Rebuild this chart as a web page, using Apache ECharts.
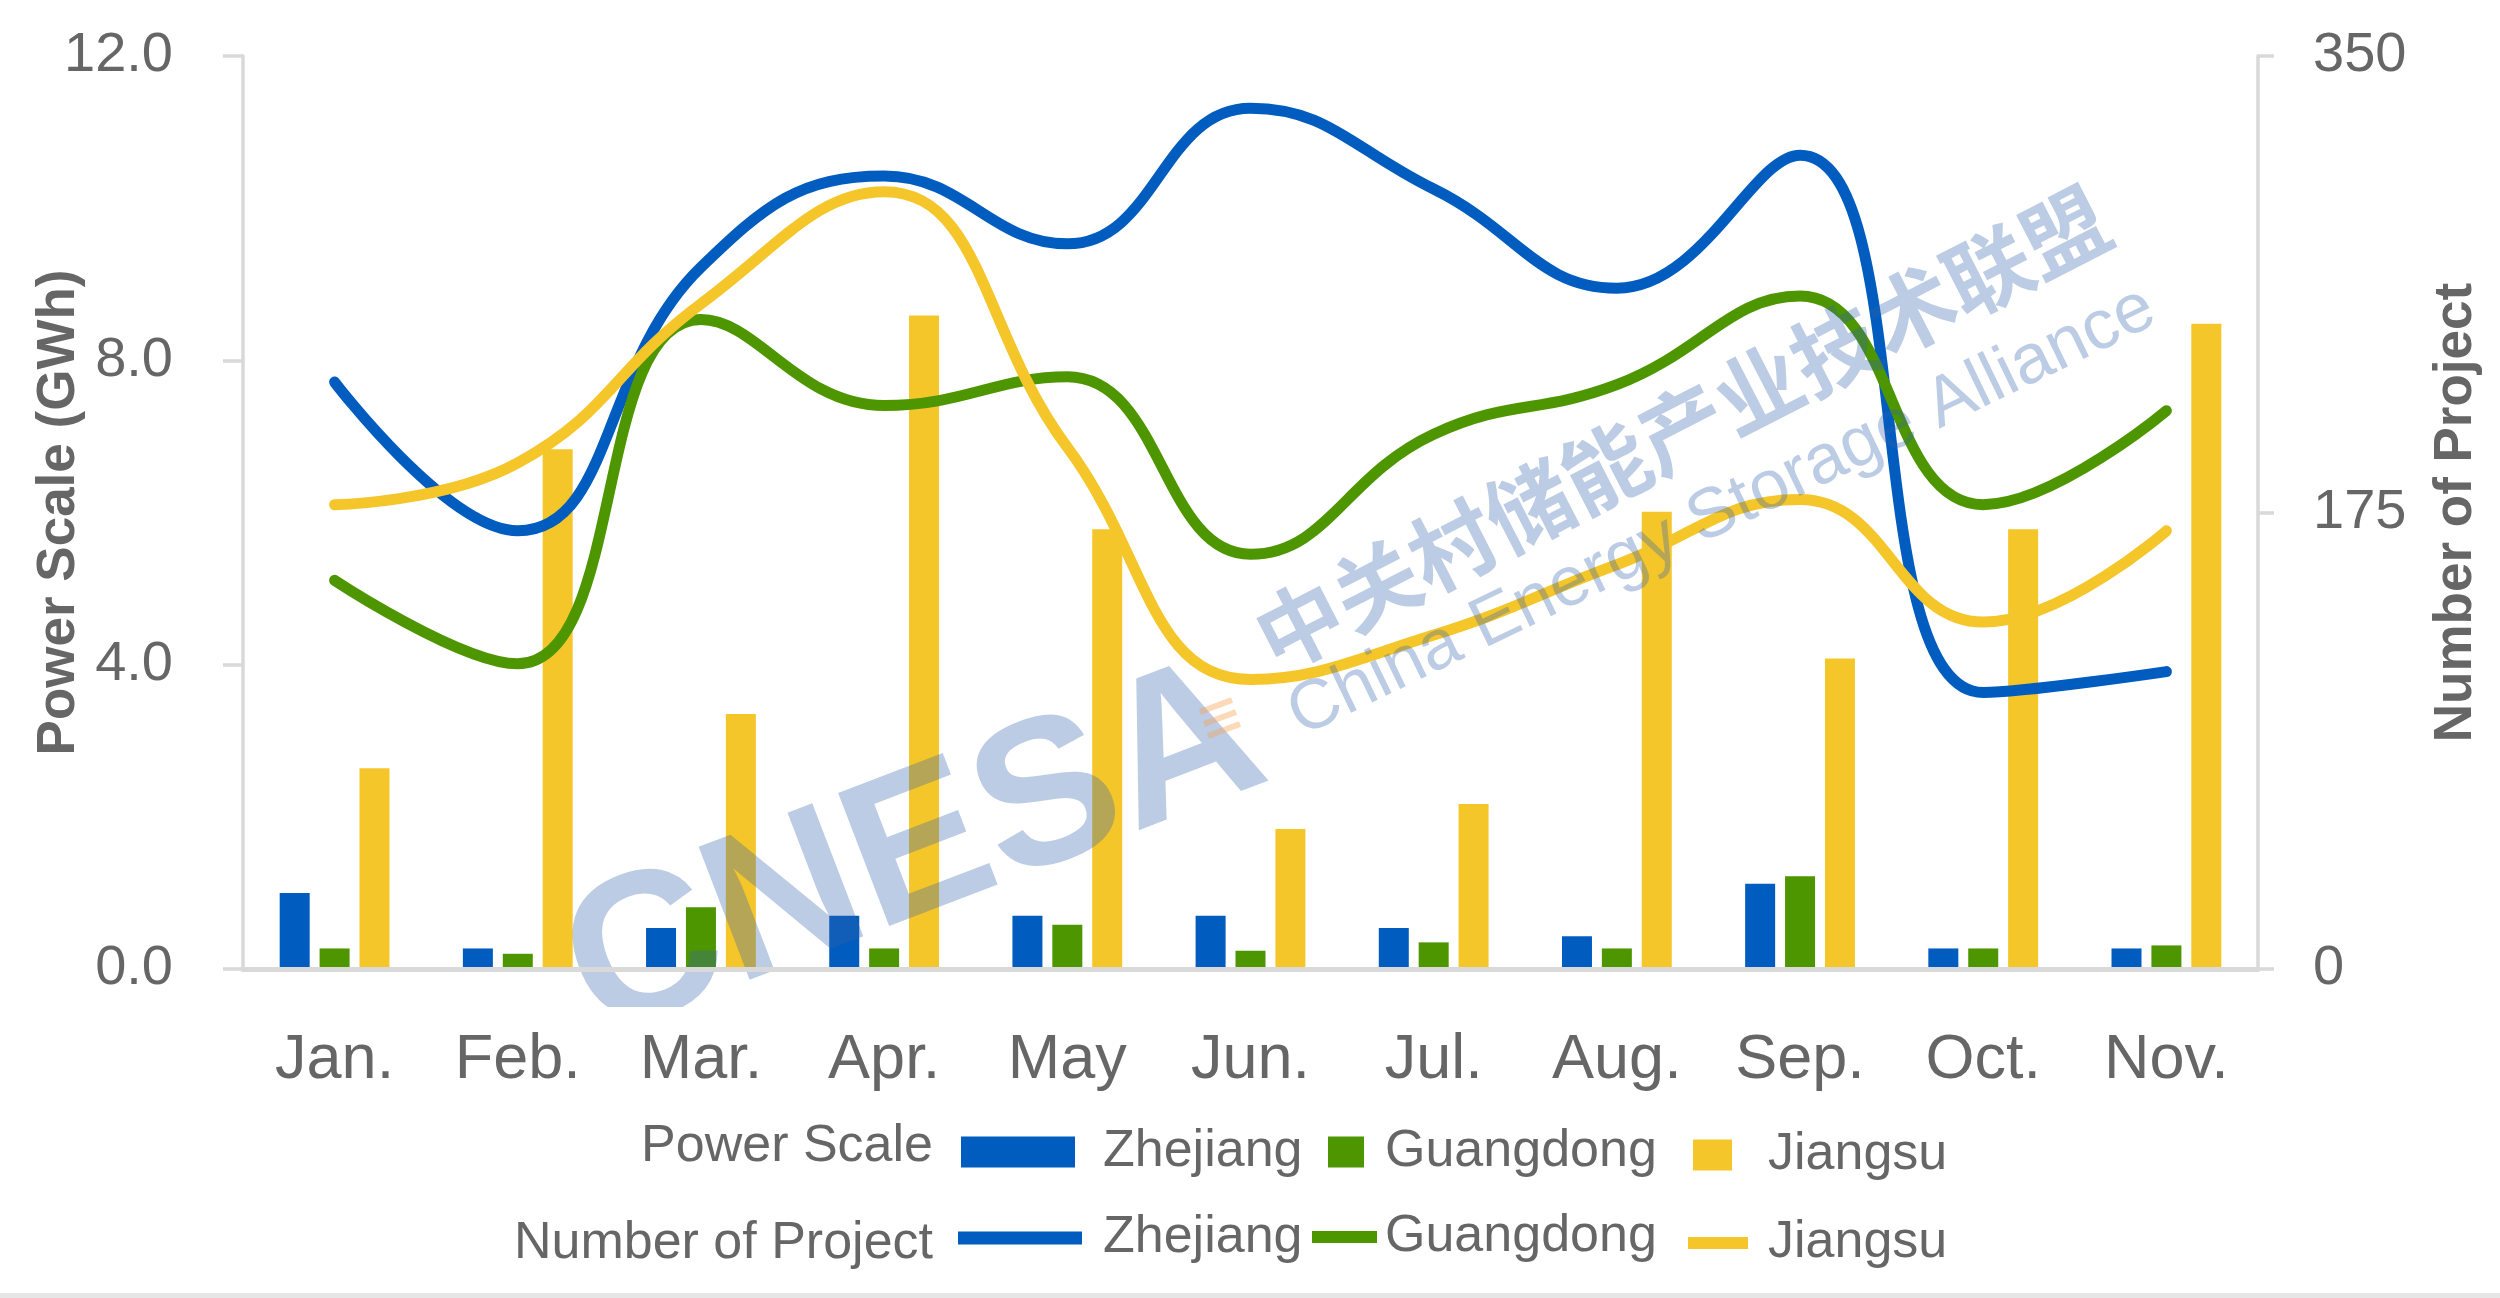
<!DOCTYPE html>
<html>
<head>
<meta charset="utf-8">
<script src="https://cdn.jsdelivr.net/npm/echarts@6/dist/echarts.min.js"></script>
<style>
  html, body { margin: 0; padding: 0; background: #fff; }
  #chart { width: 2500px; height: 1298px; }
</style>
</head>
<body>
<div id="chart"></div>
<script>
const months = ['Jan.', 'Feb.', 'Mar.', 'Apr.', 'May', 'Jun.', 'Jul.', 'Aug.', 'Sep.', 'Oct.', 'Nov.']

// Power Scale (GWh), left axis
const scaleZhejiang = [1.00, 0.27, 0.54, 0.70, 0.70, 0.70, 0.54, 0.43, 1.12, 0.27, 0.27]
const scaleGuangdong = [0.27, 0.20, 0.81, 0.27, 0.58, 0.24, 0.35, 0.27, 1.22, 0.27, 0.31]
const scaleJiangsu = [2.64, 6.83, 3.35, 8.59, 5.78, 1.84, 2.17, 6.01, 4.08, 5.78, 8.48]

// Number of Project, right axis
const projZhejiang = [225, 168, 269, 304, 278, 330, 299, 261, 312, 106, 114]
const projGuangdong = [149, 117, 249, 216, 227, 159, 205, 224, 258, 178, 214]
const projJiangsu = [178, 194, 255, 298, 200, 111, 128, 155, 180, 133, 168]

const FONT = 'Liberation Sans, Arial, sans-serif'
const BLUE = '#005cbe'
const GREEN = '#4e9600'
const YELLOW = '#f4c62a'
const GRAY_TEXT = '#666666'
const AXIS_GRAY = '#d9d9d9'
const WATER = 'rgba(52,101,175,0.33)'

const chart = echarts.init(document.getElementById('chart'))

function legendItem (name, left, top, w, h, pad) {
  return {
    data: [name],
    left: left,
    top: top,
    orient: 'horizontal',
    padding: 0,
    itemGap: 0,
    itemWidth: w,
    itemHeight: h,
    icon: 'rect',
    selectedMode: false,
    z: 200,
    formatter: n => n.split(' (')[0],
    textStyle: { fontFamily: FONT, fontSize: 52, color: GRAY_TEXT, padding: [0, 0, 0, pad] }
  }
}

function barSeries (name, data, color) {
  return {
    name: name,
    type: 'bar',
    yAxisIndex: 0,
    data: data,
    barWidth: 30,
    barGap: '33%',
    itemStyle: { color: color }
  }
}

function lineSeries (name, data, color) {
  return {
    name: name,
    type: 'line',
    yAxisIndex: 1,
    data: data,
    smooth: 0.45,
    symbol: 'none',
    itemStyle: { color: color },
    lineStyle: { color: color, width: 11, cap: 'round' },
    z: 3
  }
}

chart.setOption({
  backgroundColor: '#ffffff',
  animation: false,
  grid: { left: 243, right: 242, top: 56, bottom: 329, containLabel: false, outerBoundsMode: 'none' },
  xAxis: {
    type: 'category',
    data: months,
    z: 200,
    axisLine: { lineStyle: { color: AXIS_GRAY, width: 5 } },
    axisTick: { show: false },
    axisLabel: { color: GRAY_TEXT, fontFamily: FONT, fontSize: 63, margin: 60 },
    splitLine: { show: false }
  },
  yAxis: [
    {
      type: 'value',
      min: 0,
      max: 12,
      interval: 4,
      name: 'Power Scale (GWh)',
      nameLocation: 'middle',
      nameGap: 157,
      nameMoveOverlap: false,
      nameTextStyle: { fontFamily: FONT, fontSize: 53, fontWeight: 'bold', color: GRAY_TEXT },
      axisLine: { show: true, lineStyle: { color: AXIS_GRAY, width: 3.5 } },
      axisTick: { show: true, inside: false, length: 20, lineStyle: { color: AXIS_GRAY, width: 3.5 } },
      axisLabel: { color: GRAY_TEXT, fontFamily: FONT, fontSize: 56, margin: 70, formatter: v => v.toFixed(1) },
      splitLine: { show: false }
    },
    {
      type: 'value',
      min: 0,
      max: 350,
      interval: 175,
      position: 'right',
      name: 'Number of Project',
      nameLocation: 'middle',
      nameGap: 172,
      nameMoveOverlap: false,
      nameTextStyle: { fontFamily: FONT, fontSize: 53, fontWeight: 'bold', color: GRAY_TEXT },
      axisLine: { show: true, lineStyle: { color: AXIS_GRAY, width: 3.5 } },
      axisTick: { show: true, inside: false, length: 16, lineStyle: { color: AXIS_GRAY, width: 3.5 } },
      axisLabel: { color: GRAY_TEXT, fontFamily: FONT, fontSize: 56, margin: 55 },
      splitLine: { show: false }
    }
  ],
  legend: [
    legendItem('Zhejiang (Power Scale)', 961, 1126, 114, 31, 23),
    legendItem('Guangdong (Power Scale)', 1328, 1126, 36, 31, 16),
    legendItem('Jiangsu (Power Scale)', 1693, 1129, 39, 31, 31),
    legendItem('Zhejiang (Number of Project)', 958, 1212, 124, 13, 16),
    legendItem('Guangdong (Number of Project)', 1312, 1211, 65, 12, 3),
    legendItem('Jiangsu (Number of Project)', 1688, 1217, 60, 12, 15)
  ],
  graphic: [
    // legend row titles
    { type: 'text', x: 933, y: 1147, z: 200, style: { text: 'Power Scale', align: 'right', verticalAlign: 'middle', fontFamily: FONT, fontSize: 52, fill: GRAY_TEXT } },
    { type: 'text', x: 933, y: 1244, z: 200, style: { text: 'Number of Project', align: 'right', verticalAlign: 'middle', fontFamily: FONT, fontSize: 52, fill: GRAY_TEXT } },
    // watermark
    { type: 'text', x: 915, y: 855, rotation: 0.367, z: 100, silent: true, style: { text: 'CNESA', align: 'center', verticalAlign: 'middle', fontFamily: FONT, fontWeight: 'bold', fontSize: 207, fill: WATER } },
    { type: 'text', x: 1682, y: 428, rotation: 0.475, z: 100, silent: true, style: { text: '中关村储能产业技术联盟', align: 'center', verticalAlign: 'middle', fontFamily: 'Noto Sans CJK SC', fontWeight: 'bold', fontSize: 86, fill: WATER } },
    { type: 'text', x: 1722, y: 512, rotation: 0.45, z: 100, silent: true, style: { text: 'China Energy Storage Alliance', align: 'center', verticalAlign: 'middle', fontFamily: FONT, fontSize: 70, fill: WATER } },
    { type: 'line', z: 100, silent: true, shape: { x1: 1200, y1: 712, x2: 1232, y2: 700 }, style: { stroke: 'rgba(245,160,80,0.4)', lineWidth: 6 } },
    { type: 'line', z: 100, silent: true, shape: { x1: 1204, y1: 724, x2: 1236, y2: 712 }, style: { stroke: 'rgba(245,160,80,0.4)', lineWidth: 6 } },
    { type: 'line', z: 100, silent: true, shape: { x1: 1208, y1: 736, x2: 1240, y2: 724 }, style: { stroke: 'rgba(245,160,80,0.4)', lineWidth: 6 } },
    // watermark cut below the axis
    { type: 'rect', z: 150, silent: true, shape: { x: 420, y: 1007, width: 900, height: 118 }, style: { fill: '#ffffff' } },
    // bottom border
    { type: 'rect', z: 150, silent: true, shape: { x: 0, y: 1293, width: 2500, height: 5 }, style: { fill: '#e6e6e6' } }
  ],
  series: [
    barSeries('Zhejiang (Power Scale)', scaleZhejiang, BLUE),
    barSeries('Guangdong (Power Scale)', scaleGuangdong, GREEN),
    barSeries('Jiangsu (Power Scale)', scaleJiangsu, YELLOW),
    lineSeries('Zhejiang (Number of Project)', projZhejiang, BLUE),
    lineSeries('Guangdong (Number of Project)', projGuangdong, GREEN),
    lineSeries('Jiangsu (Number of Project)', projJiangsu, YELLOW)
  ]
})
</script>
</body>
</html>
